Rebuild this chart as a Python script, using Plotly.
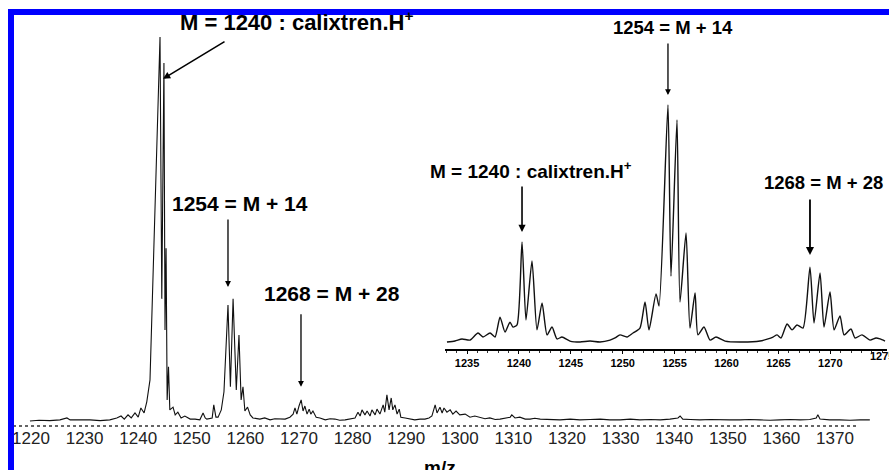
import plotly.graph_objects as go

# ---------------- data ----------------
# Main spectrum: m/z and relative intensity (%)
main_mz = [1219.8, 1221.5, 1223.5, 1225.4, 1226.7, 1227.3, 1229.1, 1231.0, 1232.9, 1234.7,
           1236.0, 1236.8, 1237.4, 1238.1, 1238.7, 1239.4, 1240.0, 1240.5, 1241.1, 1241.6,
           1242.2, 1244.07, 1244.4, 1244.8, 1245.0, 1245.2, 1245.4, 1245.65, 1245.9, 1246.5,
           1246.9, 1247.4, 1248.0, 1248.7, 1249.7, 1250.6, 1251.5, 1252.1, 1252.5, 1252.8,
           1253.8, 1254.1, 1254.5, 1254.9, 1255.5, 1256.0, 1256.75, 1257.2, 1257.7, 1258.3,
           1258.8, 1259.2, 1259.55, 1259.9, 1260.4, 1260.9, 1261.4, 1262.7, 1263.6, 1264.6,
           1265.5, 1266.5, 1267.4, 1268.3, 1268.9, 1269.25, 1269.6, 1270.0, 1270.4, 1270.75,
           1271.1, 1271.5, 1271.9, 1272.2, 1272.6, 1273.2, 1273.9, 1274.9, 1275.8, 1276.7,
           1277.6, 1278.6, 1279.5, 1280.45, 1281.0, 1281.4, 1281.75, 1282.3, 1282.7, 1283.25,
           1283.6, 1284.2, 1284.55, 1285.1, 1285.7, 1286.0, 1286.4, 1286.8, 1287.2, 1287.5,
           1287.9, 1288.3, 1288.7, 1289.0, 1289.8, 1290.7, 1291.6, 1292.6, 1293.5, 1294.25,
           1294.8, 1295.4, 1295.75, 1296.3, 1296.7, 1297.05, 1297.6, 1298.2, 1298.7, 1299.3,
           1300.0, 1301.0, 1301.9, 1302.8, 1303.8, 1304.7, 1305.6, 1306.6, 1307.5, 1308.5,
           1309.4, 1309.7, 1310.3, 1311.2, 1312.2, 1313.1, 1314.0, 1315.0, 1316.8, 1318.7,
           1320.6, 1322.4, 1324.3, 1326.2, 1328.0, 1329.9, 1331.8, 1333.6, 1335.5, 1337.4,
           1339.2, 1340.7, 1341.1, 1341.6, 1343.0, 1344.8, 1346.7, 1348.5, 1350.4, 1352.3,
           1354.1, 1356.0, 1357.9, 1359.7, 1361.6, 1363.5, 1365.3, 1366.5, 1366.8, 1367.2,
           1369.0, 1370.9, 1372.8, 1374.7, 1376.5]
main_int = [0.0, 0.2, 0.1, 0.3, 0.8, 0.3, 0.3, 0.3, 0.1, 0.3,
            0.8, 1.3, 0.5, 1.6, 0.8, 2.1, 1.0, 3.4, 2.1, 5.0,
            10.7, 100.0, 31.8, 93.2, 23.7, 45.0, 5.5, 14.1, 2.9, 3.6,
            1.6, 2.3, 0.8, 1.3, 0.5, 0.5, 0.3, 2.1, 0.8, 0.5,
            0.8, 4.2, 1.0, 1.0, 2.9, 7.6, 30.2, 8.9, 31.8, 8.1,
            22.4, 5.5, 8.9, 2.6, 3.6, 1.6, 0.8, 0.5, 0.8, 0.3,
            0.6, 0.5, 0.5, 1.0, 1.8, 3.4, 1.8, 3.9, 5.5, 2.6,
            3.9, 1.8, 3.1, 1.8, 2.6, 1.0, 0.8, 0.3, 0.6, 0.5,
            0.2, 0.3, 0.5, 0.8, 2.3, 1.3, 2.9, 1.6, 2.6, 1.3,
            2.9, 1.6, 3.1, 1.8, 4.2, 2.3, 6.8, 2.9, 6.0, 2.9,
            4.2, 1.8, 3.1, 1.0, 0.8, 0.5, 0.3, 0.5, 0.5, 0.8,
            1.3, 4.2, 2.1, 3.6, 2.1, 3.4, 2.3, 2.9, 1.8, 2.6,
            1.6, 1.8, 1.0, 1.3, 1.0, 0.6, 0.8, 0.4, 0.5, 0.8,
            1.0, 1.6, 0.8, 1.0, 0.5, 0.5, 0.7, 0.5, 0.4, 0.3,
            0.5, 0.3, 0.4, 0.5, 0.3, 0.3, 0.5, 0.3, 0.4, 0.3,
            0.5, 0.8, 1.3, 0.5, 0.4, 0.3, 0.4, 0.3, 0.3, 0.3,
            0.4, 0.3, 0.2, 0.3, 0.4, 0.3, 0.4, 0.8, 1.6, 0.5,
            0.3, 0.3, 0.2, 0.3, 0.3]

# Inset (zoom of 1233-1275)
inset_mz = [1233.07, 1233.84, 1234.52, 1235.29, 1236.06, 1236.54, 1237.22, 1237.70, 1238.18, 1238.66,
            1239.14, 1239.43, 1239.82, 1240.30, 1240.68, 1241.26, 1241.74, 1242.23, 1242.71, 1243.19,
            1243.67, 1244.15, 1244.92, 1245.89, 1246.85, 1247.81, 1248.78, 1249.26, 1249.74, 1250.41,
            1250.99, 1251.66, 1252.15, 1252.53, 1253.21, 1253.50, 1254.36, 1254.65, 1255.23, 1255.52,
            1256.10, 1256.48, 1256.97, 1257.25, 1257.83, 1258.41, 1258.99, 1259.86, 1261.30, 1263.23,
            1264.00, 1264.48, 1264.87, 1265.25, 1265.83, 1266.31, 1266.79, 1267.37, 1268.04, 1268.43,
            1269.01, 1269.39, 1269.97, 1270.36, 1270.93, 1271.32, 1271.99, 1272.38, 1273.05, 1273.82,
            1274.40, 1274.79, 1275.27]
inset_int = [0.0, 0.4, 1.3, 0.8, 3.8, 2.1, 3.8, 2.1, 10.5, 4.2,
             8.4, 6.3, 7.2, 42.2, 9.3, 34.2, 5.1, 16.5, 3.0, 6.3,
             1.3, 2.1, 0.4, 0.0, 0.4, 0.0, 0.8, 1.7, 3.0, 2.1,
             3.8, 5.9, 16.9, 5.1, 20.3, 15.2, 100.0, 27.8, 93.7, 16.9,
             46.0, 5.9, 20.7, 3.0, 6.3, 0.8, 2.1, 0.4, 0.0, 0.4,
             1.3, 2.1, 3.0, 1.7, 7.6, 5.1, 7.2, 5.9, 31.6, 8.0,
             29.1, 6.3, 21.1, 5.1, 11.0, 3.0, 5.5, 1.7, 3.0, 0.8,
             1.7, 1.3, 0.4]

main_ticks = [1220, 1230, 1240, 1250, 1260, 1270, 1280, 1290, 1300, 1310, 1320, 1330, 1340, 1350, 1360, 1370]
inset_ticks = [1235, 1240, 1245, 1250, 1255, 1260, 1265, 1270]
inset_edge_tick = 1275

# annotation texts
lbl_M = "<b>M = 1240 : calixtren.H<sup>+</sup></b>"
lbl_14 = "<b>1254 = M + 14</b>"
lbl_28 = "<b>1268 = M + 28</b>"

# ---------------- layout helpers (pixel geometry) ----------------
W, H = 889, 470
def px(x):
    return x / W
def py(y):
    return 1 - y / H

fig = go.Figure()
fig.add_trace(go.Scatter(x=main_mz, y=main_int, mode="lines",
                         line=dict(color="#111111", width=1.1), xaxis="x", yaxis="y",
                         showlegend=False, hoverinfo="skip"))
fig.add_trace(go.Scatter(x=inset_mz, y=inset_int, mode="lines",
                         line=dict(color="#111111", width=1.4, shape="spline", smoothing=0.6),
                         xaxis="x2", yaxis="y2", showlegend=False, hoverinfo="skip"))

afont = dict(family="Liberation Sans, Arial, sans-serif", color="black")
tfont_inset = dict(family="Liberation Sans Narrow, Liberation Sans, sans-serif",
                   size=11, color="black", weight="bold")

annotations = [
    # main plot labels
    dict(text=lbl_M, x=1269.6, y=py(21), xref="x", yref="paper", showarrow=False,
         yanchor="middle", font=dict(size=22, **afont)),
    dict(text=lbl_14, x=1259.0, y=56.5, xref="x", yref="y", showarrow=False,
         font=dict(size=21, **afont)),
    dict(text=lbl_28, x=1276.2, y=33.3, xref="x", yref="y", showarrow=False,
         font=dict(size=21, **afont)),
    # main arrows
    dict(text="", x=1244.63, y=89.1, xref="x", yref="y", ax=63, ay=-38,
         showarrow=True, arrowhead=2, arrowsize=0.9, arrowwidth=1.6, arrowcolor="black"),
    dict(text="", x=1256.75, y=34.9, xref="x", yref="y", ax=0, ay=-69,
         showarrow=True, arrowhead=2, arrowsize=0.9, arrowwidth=1.3, arrowcolor="black"),
    dict(text="", x=1270.37, y=8.9, xref="x", yref="y", ax=0, ay=-74,
         showarrow=True, arrowhead=2, arrowsize=0.9, arrowwidth=1.3, arrowcolor="black"),
    # inset labels
    dict(text=lbl_M, x=1241.17, y=72.6, xref="x2", yref="y2", showarrow=False,
         font=dict(size=19, **afont)),
    dict(text=lbl_14, x=1254.85, y=py(27), xref="x2", yref="paper", showarrow=False,
         yanchor="middle", font=dict(size=18.5, **afont)),
    dict(text=lbl_28, x=1269.39, y=67.1, xref="x2", yref="y2", showarrow=False,
         font=dict(size=18.5, **afont)),
    # inset arrows
    dict(text="", x=1240.30, y=46.4, xref="x2", yref="y2", ax=0, ay=-47,
         showarrow=True, arrowhead=2, arrowsize=0.9, arrowwidth=1.6, arrowcolor="black"),
    dict(text="", x=1254.36, y=104.2, xref="x2", yref="y2", ax=0, ay=-53,
         showarrow=True, arrowhead=2, arrowsize=0.9, arrowwidth=1.3, arrowcolor="black"),
    dict(text="", x=1268.04, y=36.7, xref="x2", yref="y2", ax=0, ay=-57,
         showarrow=True, arrowhead=2, arrowsize=0.9, arrowwidth=1.8, arrowcolor="black"),
    # inset edge tick label (clipped by the page edge as in the original)
    dict(text=str(inset_edge_tick), x=inset_edge_tick, y=py(356), xref="x2", yref="paper",
         xanchor="center", yanchor="middle", showarrow=False, font=tfont_inset),
    # axis title
    dict(text="<b>m/z</b>", x=px(440), y=py(455), xref="paper", yref="paper",
         xanchor="center", yanchor="top", showarrow=False,
         font=dict(size=19, **afont)),
]

shapes = [
    # main axis line (dotted)
    dict(type="line", xref="paper", yref="paper", x0=px(13), x1=px(857), y0=py(426), y1=py(426),
         line=dict(color="#333333", width=1.5, dash="dot")),
    # blue frame
    dict(type="line", xref="paper", yref="paper", x0=px(8), x1=1.0, y0=py(12), y1=py(12),
         line=dict(color="#0000ff", width=6)),
    dict(type="line", xref="paper", yref="paper", x0=px(11), x1=px(11), y0=py(9), y1=0.0,
         line=dict(color="#0000ff", width=6)),
]

fig.update_layout(
    width=W, height=H,
    margin=dict(l=0, r=0, t=0, b=0),
    paper_bgcolor="white", plot_bgcolor="rgba(0,0,0,0)",
    xaxis=dict(domain=[px(13), px(870)], range=[1216.64, 1376.53],
               tickvals=main_ticks, ticktext=[str(t) for t in main_ticks],
               showgrid=False, zeroline=False, showline=False,
               ticks="", ticklabelstandoff=0,
               tickfont=dict(family="Liberation Sans, DejaVu Sans, sans-serif", size=17, color="#222222"),
               anchor="y"),
    yaxis=dict(domain=[py(426), py(30)], range=[-1.30, 101.8],
               visible=False, anchor="x"),
    xaxis2=dict(domain=[px(445), px(887)], range=[1232.88, 1275.46],
                tickvals=inset_ticks, ticktext=[str(t) for t in inset_ticks],
                showgrid=False, zeroline=False, showline=True, linecolor="black", linewidth=1.5,
                ticks="outside", ticklen=3, tickwidth=1, tickcolor="black",
                minor=dict(dtick=1, ticks="outside", ticklen=2, tickcolor="#333333"),
                ticklabelstandoff=0,
                tickfont=tfont_inset,
                anchor="y2"),
    yaxis2=dict(domain=[py(349), py(40)], range=[-2.95, 127.4],
                visible=False, anchor="x2"),
    annotations=annotations,
    shapes=shapes,
)

fig.write_html("out.html", config={"displayModeBar": False, "staticPlot": True},
               post_script="document.body.style.margin='0px';document.body.style.overflow='hidden';")
